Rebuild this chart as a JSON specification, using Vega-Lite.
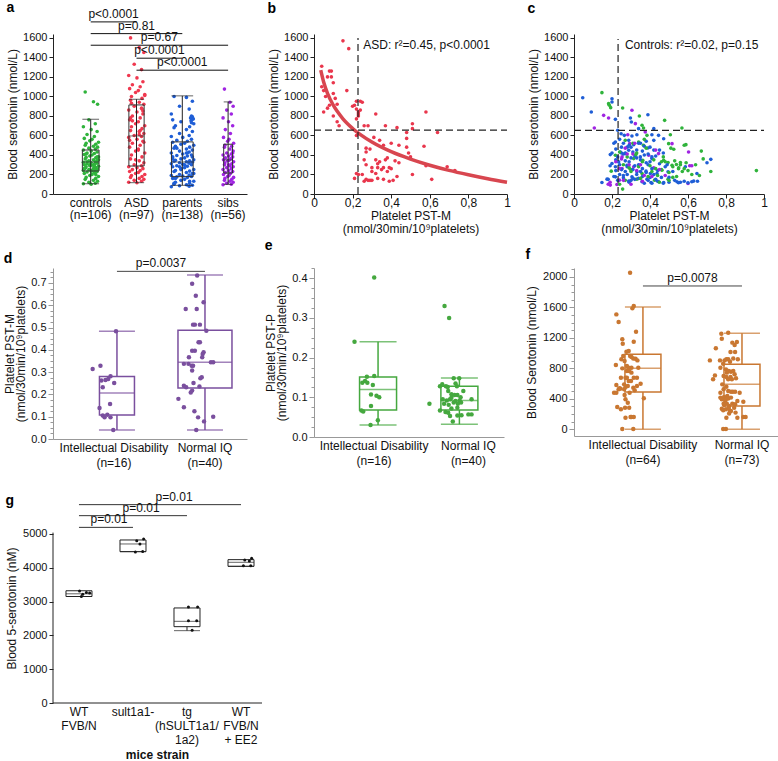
{
"$schema":"https://vega.github.io/schema/vega-lite/v6.json",
"autosize":{"type":"pad"},
"padding":{"left":3,"top":0,"right":0,"bottom":0},
"background":"white",
"config":{"font":"Liberation Sans","view":{"stroke":null},
 "axis":{"grid":false,"domainColor":"#222","tickColor":"#222","labelColor":"#111","titleColor":"#111","labelFontSize":11,"titleFontSize":12,"titleFontWeight":"normal","tickSize":4,"labelPadding":2,"labelOverlap":false},
 "title":{"fontSize":14,"fontWeight":"bold","anchor":"start","frame":"bounds","color":"#000"}},
"bounds":"flush",
"columns":3,
"align":"none",
"spacing":{"row":74,"column":67},
"concat":[
  {"width":194,"height":160,
   "title":{"text":"a","offset":-7},
   "layer":[
    {"layer":[
     {"data":{"name":"aPts"},"mark":{"type":"circle","size":13,"opacity":1},
      "encoding":{
       "x":{"field":"g","type":"nominal","scale":{"domain":["controls","ASD","parents","sibs"],"paddingInner":0.5,"paddingOuter":0.368,"align":0.779},
            "axis":{"title":null,"ticks":false,"labelAngle":0,"labelFontSize":12,"labelPadding":3,"labelLineHeight":12.5,"labelLimit":0,"labelOverlap":false,"labelBound":false,
                    "labelExpr":"datum.value=='controls'?['controls','(n=106)']:datum.value=='ASD'?['ASD','(n=97)']:datum.value=='parents'?['parents','(n=138)']:['sibs','(n=56)']"}},
       "xOffset":{"field":"j","type":"quantitative","scale":{"domain":[-0.5,0.5],"range":[-11.45,34.35]}},
       "y":{"field":"v","type":"quantitative","scale":{"domain":[0,1640],"nice":false,"zero":false},"axis":{"title":"Blood serotonin (nmol/L)","format":"d","labelOverlap":false,"tickCount":100,"values":[0,200,400,600,800,1000,1200,1400,1600],"titlePadding":3}},
       "color":{"field":"g","type":"nominal","scale":{"domain":["controls","ASD","parents","sibs"],"range":["#2fb33b","#f0384f","#1f5ed6","#a024e2"]},"legend":null}}},
     {"data":{"name":"aBox"},"mark":{"type":"rule","color":"#222","strokeWidth":1},
      "encoding":{"x":{"field":"g","type":"nominal"},"y":{"field":"lo","type":"quantitative"},"y2":{"field":"hi"}}},
     {"data":{"name":"aBox"},"mark":{"type":"bar","fillOpacity":0,"stroke":"#333","strokeWidth":1},
      "encoding":{"x":{"field":"g","type":"nominal"},"y":{"field":"q1","type":"quantitative"},"y2":{"field":"q3"},
       "size":{"field":"n","type":"quantitative","scale":{"domain":[0,138],"range":[0,21.7],"zero":true},"legend":null}}},
     {"data":{"name":"aBox"},"mark":{"type":"tick","color":"#333","thickness":1},
      "encoding":{"x":{"field":"g","type":"nominal"},"y":{"field":"med","type":"quantitative"},"size":{"field":"n","type":"quantitative","legend":null}}},
     {"data":{"name":"aBox"},"mark":{"type":"tick","color":"#222","thickness":1},
      "encoding":{"x":{"field":"g","type":"nominal"},"y":{"field":"lo","type":"quantitative"},"size":{"field":"n","type":"quantitative","legend":null}}},
     {"data":{"name":"aBox"},"mark":{"type":"tick","color":"#222","thickness":1},
      "encoding":{"x":{"field":"g","type":"nominal"},"y":{"field":"hi","type":"quantitative"},"size":{"field":"n","type":"quantitative","legend":null}}},
     {"data":{"name":"aSig"},"mark":{"type":"rule","color":"#111","strokeWidth":1},
      "encoding":{"x":{"field":"from","type":"nominal"},"x2":{"field":"to"},"y":{"field":"y","type":"quantitative"}}}
    ]},
    {"data":{"name":"aSig"},"mark":{"type":"text","fontSize":12,"baseline":"bottom","dy":-1,"color":"#111"},
     "encoding":{"x":{"field":"mid","type":"quantitative","scale":{"domain":[0.177,4.413],"nice":false,"zero":false},"axis":null},
      "y":{"field":"y","type":"quantitative"},"text":{"field":"p"}}}
   ],
   "resolve":{"scale":{"x":"independent"}}},
   {"width":193,"height":160,
    "title":{"text":"b","offset":16},
    "layer":[
     {"data":{"name":"bPts"},"mark":{"type":"circle","size":13,"opacity":1,"color":"#e9364c"},
      "encoding":{
       "x":{"field":"x","type":"quantitative","scale":{"domain":[0,1],"nice":false},
            "axis":{"title":["Platelet PST-M","(nmol/30min/10⁹platelets)"],"titleLineHeight":13.5,"titlePadding":2,"values":[0,0.2,0.4,0.6,0.8,1],"tickCount":100,"format":"~g","labelExpr":"replace(datum.label,'.',',')","labelFlush":false,"labelOverlap":false,"labelPadding":-1,"labelFontSize":12}},
       "y":{"field":"v","type":"quantitative","scale":{"domain":[0,1640],"nice":false},"axis":{"title":"Blood serotonin (nmol/L)","format":"d","labelOverlap":false,"tickCount":100,"values":[0,200,400,600,800,1000,1200,1400,1600],"titlePadding":3}}}},
     {"data":{"name":"bCurve"},"mark":{"type":"line","color":"#d8464f","strokeWidth":3.5,"interpolate":"monotone"},
      "encoding":{"x":{"field":"x","type":"quantitative"},"y":{"field":"v","type":"quantitative"}}},
     {"data":{"values":[{"x":0.228,"lo":0,"hi":1600}]},"mark":{"type":"rule","color":"#222","strokeWidth":1.2,"strokeDash":[7,4]},
      "encoding":{"x":{"field":"x","type":"quantitative"},"y":{"field":"lo","type":"quantitative"},"y2":{"field":"hi"}}},
     {"data":{"values":[{"v":655,"x0":0,"x1":1}]},"mark":{"type":"rule","color":"#222","strokeWidth":1.2,"strokeDash":[7,4]},
      "encoding":{"x":{"field":"x0","type":"quantitative"},"x2":{"field":"x1"},"y":{"field":"v","type":"quantitative"}}},
     {"data":{"values":[{"x":0.255,"v":1530,"t":"ASD: r²=0.45, p<0.0001"}]},"mark":{"type":"text","align":"left","fontSize":12,"color":"#111"},
      "encoding":{"x":{"field":"x","type":"quantitative"},"y":{"field":"v","type":"quantitative"},"text":{"field":"t"}}}
    ]},
   {"width":190,"height":160,
    "title":{"text":"c","offset":16},
    "layer":[
     {"data":{"name":"cPts"},"mark":{"type":"circle","size":13,"opacity":1},
      "encoding":{
       "x":{"field":"x","type":"quantitative","scale":{"domain":[0,1],"nice":false},
            "axis":{"title":["Platelet PST-M","(nmol/30min/10⁹platelets)"],"titleLineHeight":13.5,"titlePadding":2,"values":[0,0.2,0.4,0.6,0.8,1],"tickCount":100,"format":"~g","labelExpr":"replace(datum.label,'.',',')","labelFlush":false,"labelOverlap":false,"labelPadding":-1,"labelFontSize":12}},
       "y":{"field":"v","type":"quantitative","scale":{"domain":[0,1640],"nice":false},"axis":{"title":"Blood serotonin (nmol/L)","format":"d","labelOverlap":false,"tickCount":100,"values":[0,200,400,600,800,1000,1200,1400,1600],"titlePadding":3}},
       "color":{"field":"g","type":"nominal","scale":{"domain":["parents","controls","sibs","other"],"range":["#1f5ed6","#34b534","#a52be3","#111111"]},"legend":null}}},
     {"data":{"values":[{"x":0.232,"lo":0,"hi":1590}]},"mark":{"type":"rule","color":"#222","strokeWidth":1.2,"strokeDash":[7,4]},
      "encoding":{"x":{"field":"x","type":"quantitative"},"y":{"field":"lo","type":"quantitative"},"y2":{"field":"hi"}}},
     {"data":{"values":[{"v":652,"x0":0,"x1":1}]},"mark":{"type":"rule","color":"#222","strokeWidth":1.2,"strokeDash":[7,4]},
      "encoding":{"x":{"field":"x0","type":"quantitative"},"x2":{"field":"x1"},"y":{"field":"v","type":"quantitative"}}},
     {"data":{"values":[{"x":0.268,"v":1530,"t":"Controls: r²=0.02, p=0.15"}]},"mark":{"type":"text","align":"left","fontSize":12,"color":"#111"},
      "encoding":{"x":{"field":"x","type":"quantitative"},"y":{"field":"v","type":"quantitative"},"text":{"field":"t"}}}
    ]},
  {"width":194,"height":171,
   "title":{"text":"d","offset":-9},
   "layer":[
    {"layer":[
     {"data":{"name":"dPts"},"mark":{"type":"circle","size":20,"opacity":1,"color":"#7a4f9e"},
      "encoding":{
       "x":{"field":"g","type":"nominal","scale":{"domain":["Intellectual Disability","Normal IQ"],"paddingInner":0.5,"paddingOuter":0.352,"align":0.677},
            "axis":{"title":null,"ticks":false,"labelAngle":0,"labelFontSize":12,"labelPadding":3,"labelLineHeight":15,"labelLimit":0,"labelOverlap":false,"labelBound":false,"domainColor":"#999",
                    "labelOffset":{"condition":{"test":"datum.value=='Normal IQ'","value":0},"value":-3},
                    "labelExpr":"datum.value=='Normal IQ'?['Normal IQ','(n=40)']:['Intellectual Disability','(n=16)']"}},
       "xOffset":{"field":"j","type":"quantitative","scale":{"domain":[-0.5,0.5],"range":[-22,66]}},
       "y":{"field":"v","type":"quantitative","scale":{"domain":[0,0.767],"nice":false,"zero":false},
            "axis":{"title":["Platelet PST-M","(nmol/30min/10⁹platelets)"],"titleLineHeight":11,"titlePadding":3,"domainColor":"#999","tickColor":"#999","labelOverlap":false,"tickCount":100,
                    "values":[0,0.025,0.05,0.075,0.1,0.125,0.15,0.175,0.2,0.225,0.25,0.275,0.3,0.325,0.35,0.375,0.4,0.425,0.45,0.475,0.5,0.525,0.55,0.575,0.6,0.625,0.65,0.675,0.7,0.725,0.75],
                    "labelExpr":"round(datum.value*1000)%100==0?format(datum.value,'.1f'):''",
                    "tickSize":{"condition":{"test":"round(datum.value*1000)%100==0","value":5},"value":3}}}}},
     {"data":{"name":"dBox"},"mark":{"type":"rule","color":"#7a4f9e","strokeWidth":1.5},
      "encoding":{"x":{"field":"g","type":"nominal"},"y":{"field":"lo","type":"quantitative"},"y2":{"field":"q1"}}},
     {"data":{"name":"dBox"},"mark":{"type":"rule","color":"#7a4f9e","strokeWidth":1.5},
      "encoding":{"x":{"field":"g","type":"nominal"},"y":{"field":"q3","type":"quantitative"},"y2":{"field":"hi"}}},
     {"data":{"name":"dBox"},"transform":[{"filter":"datum.g=='Intellectual Disability'"}],"mark":{"type":"bar","fillOpacity":0,"stroke":"#7a4f9e","strokeWidth":1.5,"width":35},
      "encoding":{"x":{"field":"g","type":"nominal"},"y":{"field":"q1","type":"quantitative"},"y2":{"field":"q3"}}},
     {"data":{"name":"dBox"},"transform":[{"filter":"datum.g=='Normal IQ'"}],"mark":{"type":"bar","fillOpacity":0,"stroke":"#7a4f9e","strokeWidth":1.5,"width":54},
      "encoding":{"x":{"field":"g","type":"nominal"},"y":{"field":"q1","type":"quantitative"},"y2":{"field":"q3"}}},
     {"data":{"name":"dBox"},"transform":[{"filter":"datum.g=='Intellectual Disability'"}],"mark":{"type":"tick","color":"#7a4f9e","thickness":1.5,"size":35},
      "encoding":{"x":{"field":"g","type":"nominal"},"y":{"field":"med","type":"quantitative"}}},
     {"data":{"name":"dBox"},"transform":[{"filter":"datum.g=='Normal IQ'"}],"mark":{"type":"tick","color":"#7a4f9e","thickness":1.5,"size":54},
      "encoding":{"x":{"field":"g","type":"nominal"},"y":{"field":"med","type":"quantitative"}}},
     {"data":{"name":"dBox"},"mark":{"type":"tick","color":"#7a4f9e","thickness":1.5,"size":36},
      "encoding":{"x":{"field":"g","type":"nominal"},"y":{"field":"lo","type":"quantitative"}}},
     {"data":{"name":"dBox"},"mark":{"type":"tick","color":"#7a4f9e","thickness":1.5,"size":36},
      "encoding":{"x":{"field":"g","type":"nominal"},"y":{"field":"hi","type":"quantitative"}}},
     {"data":{"values":[{"from":"Intellectual Disability","to":"Normal IQ","y":0.752,"mid":1.5,"p":"p=0.0037"}]},"mark":{"type":"rule","color":"#444","strokeWidth":1},
      "encoding":{"x":{"field":"from","type":"nominal"},"x2":{"field":"to"},"y":{"field":"y","type":"quantitative"}}}
    ]},
    {"data":{"values":[{"from":"Intellectual Disability","to":"Normal IQ","y":0.752,"mid":1.5,"p":"p=0.0037"}]},"mark":{"type":"text","fontSize":12,"baseline":"bottom","dy":-1,"color":"#111"},
     "encoding":{"x":{"field":"mid","type":"quantitative","scale":{"domain":[0.273,2.477],"nice":false,"zero":false},"axis":null},
      "y":{"field":"y","type":"quantitative"},"text":{"field":"p"}}}
   ],
   "resolve":{"scale":{"x":"independent"}}},
   {"width":190,"height":169,
    "title":{"text":"e","offset":9},
    "layer":[
     {"data":{"name":"ePts"},"mark":{"type":"circle","size":20,"opacity":1,"color":"#45a83f"},
      "encoding":{
       "x":{"field":"g","type":"nominal","scale":{"domain":["Intellectual Disability","Normal IQ"],"paddingInner":0.5,"paddingOuter":0.418,"align":0.643},
            "axis":{"title":null,"ticks":false,"labelAngle":0,"labelFontSize":12,"labelPadding":3,"labelLineHeight":15,"labelLimit":0,"labelOverlap":false,"labelBound":false,"domainColor":"#999",
                    "labelOffset":{"condition":{"test":"datum.value=='Normal IQ'","value":9},"value":-4},
                    "labelExpr":"datum.value=='Normal IQ'?['Normal IQ','(n=40)']:['Intellectual Disability','(n=16)']"}},
       "xOffset":{"field":"j","type":"quantitative","scale":{"domain":[-0.5,0.5],"range":[-20.3,61]}},
       "y":{"field":"v","type":"quantitative","scale":{"domain":[0,0.426],"nice":false,"zero":false},
            "axis":{"title":["Platelet PST-P","(nmol/30min/10⁹platelets)"],"titleLineHeight":11,"titlePadding":3,"domainColor":"#999","tickColor":"#999","labelOverlap":false,"tickCount":100,
                    "values":[0,0.025,0.05,0.075,0.1,0.125,0.15,0.175,0.2,0.225,0.25,0.275,0.3,0.325,0.35,0.375,0.4,0.425],
                    "labelExpr":"round(datum.value*1000)%100==0?format(datum.value,'.1f'):''",
                    "tickSize":{"condition":{"test":"round(datum.value*1000)%100==0","value":5},"value":3}}}}},
     {"data":{"name":"eBox"},"mark":{"type":"rule","color":"#45a83f","strokeWidth":1.5},
      "encoding":{"x":{"field":"g","type":"nominal"},"y":{"field":"lo","type":"quantitative"},"y2":{"field":"q1"}}},
     {"data":{"name":"eBox"},"mark":{"type":"rule","color":"#45a83f","strokeWidth":1.5},
      "encoding":{"x":{"field":"g","type":"nominal"},"y":{"field":"q3","type":"quantitative"},"y2":{"field":"hi"}}},
     {"data":{"name":"eBox"},"mark":{"type":"bar","fillOpacity":0,"stroke":"#45a83f","strokeWidth":1.5,"width":37},
      "encoding":{"x":{"field":"g","type":"nominal"},"y":{"field":"q1","type":"quantitative"},"y2":{"field":"q3"}}},
     {"data":{"name":"eBox"},"mark":{"type":"tick","color":"#45a83f","thickness":1.5,"size":37},
      "encoding":{"x":{"field":"g","type":"nominal"},"y":{"field":"med","type":"quantitative"}}},
     {"data":{"name":"eBox"},"mark":{"type":"tick","color":"#45a83f","thickness":1.5,"size":37},
      "encoding":{"x":{"field":"g","type":"nominal"},"y":{"field":"lo","type":"quantitative"}}},
     {"data":{"name":"eBox"},"mark":{"type":"tick","color":"#45a83f","thickness":1.5,"size":37},
      "encoding":{"x":{"field":"g","type":"nominal"},"y":{"field":"hi","type":"quantitative"}}}
    ]},
   {"width":207,"height":168,
    "title":{"text":"f","offset":1},
    "layer":[
     {"layer":[
      {"data":{"name":"fPts"},"mark":{"type":"circle","size":20,"opacity":1,"color":"#c97731"},
       "encoding":{
        "x":{"field":"g","type":"nominal","scale":{"domain":["Intellectual Disability","Normal IQ"],"paddingInner":0.5,"paddingOuter":0.295,"align":0.756},
             "axis":{"title":null,"ticks":false,"labelAngle":0,"labelFontSize":12,"labelPadding":3,"labelLineHeight":15,"labelLimit":0,"labelOverlap":false,"labelBound":false,"domainColor":"#999",
                     "labelExpr":"datum.value=='Normal IQ'?['Normal IQ','(n=73)']:['Intellectual Disability','(n=64)']"}},
        "xOffset":{"field":"j","type":"quantitative","scale":{"domain":[-0.5,0.5],"range":[-24.75,74.25]}},
        "y":{"field":"v","type":"quantitative","scale":{"domain":[-88,2118],"nice":false,"zero":false},
             "axis":{"title":"Blood Serotonin (nmol/L)","titlePadding":4,"domainColor":"#999","tickColor":"#999","labelOverlap":false,"tickCount":100,
                     "values":[0,100,200,300,400,500,600,700,800,900,1000,1100,1200,1300,1400,1500,1600,1700,1800,1900,2000,2100],
                     "labelExpr":"datum.value%400==0?format(datum.value,'d'):''",
                     "tickSize":{"condition":{"test":"datum.value%400==0","value":5},"value":3}}}}},
      {"data":{"name":"fBox"},"mark":{"type":"rule","color":"#c97731","strokeWidth":1.5},
       "encoding":{"x":{"field":"g","type":"nominal"},"y":{"field":"lo","type":"quantitative"},"y2":{"field":"q1"}}},
      {"data":{"name":"fBox"},"mark":{"type":"rule","color":"#c97731","strokeWidth":1.5},
       "encoding":{"x":{"field":"g","type":"nominal"},"y":{"field":"q3","type":"quantitative"},"y2":{"field":"hi"}}},
      {"data":{"name":"fBox"},"mark":{"type":"bar","fillOpacity":0,"stroke":"#c97731","strokeWidth":1.5,"width":36},
       "encoding":{"x":{"field":"g","type":"nominal"},"y":{"field":"q1","type":"quantitative"},"y2":{"field":"q3"}}},
      {"data":{"name":"fBox"},"mark":{"type":"tick","color":"#c97731","thickness":1.5,"size":36},
       "encoding":{"x":{"field":"g","type":"nominal"},"y":{"field":"med","type":"quantitative"}}},
      {"data":{"name":"fBox"},"mark":{"type":"tick","color":"#c97731","thickness":1.5,"size":36},
       "encoding":{"x":{"field":"g","type":"nominal"},"y":{"field":"lo","type":"quantitative"}}},
      {"data":{"name":"fBox"},"mark":{"type":"tick","color":"#c97731","thickness":1.5,"size":36},
       "encoding":{"x":{"field":"g","type":"nominal"},"y":{"field":"hi","type":"quantitative"}}},
      {"data":{"values":[{"from":"Intellectual Disability","to":"Normal IQ","y":1882,"mid":1.5,"p":"p=0.0078"}]},"mark":{"type":"rule","color":"#444","strokeWidth":1},
       "encoding":{"x":{"field":"from","type":"nominal"},"x2":{"field":"to"},"y":{"field":"y","type":"quantitative"}}}
     ]},
     {"data":{"values":[{"from":"Intellectual Disability","to":"Normal IQ","y":1882,"mid":1.5,"p":"p=0.0078"}]},"mark":{"type":"text","fontSize":12,"baseline":"bottom","dy":-1,"color":"#111"},
      "encoding":{"x":{"field":"mid","type":"quantitative","scale":{"domain":[0.303,2.394],"nice":false,"zero":false},"axis":null},
       "y":{"field":"y","type":"quantitative"},"text":{"field":"p"}}}
    ],
    "resolve":{"scale":{"x":"independent"}}},
{"width":194,"height":190,
 "title":{"text":"g","offset":-17},
 "layer":[
  {"layer":[
   {"data":{"name":"gBox"},"mark":{"type":"rule","color":"#222","strokeWidth":1},
    "encoding":{
     "x":{"field":"g","type":"nominal","scale":{"domain":["WT FVB/N","sult1a1-","tg (hSULT1a1/1a2)","WT FVB/N + EE2"],"paddingInner":0.8,"paddingOuter":0.196,"align":0.972},
          "axis":{"title":"mice strain","titleFontWeight":"bold","titlePadding":4,"titleX":104,"domain":false,"ticks":false,"labelAngle":0,"labelFontSize":12,"labelPadding":3,"labelLineHeight":14,"labelLimit":0,"labelOverlap":false,"labelBound":false,"labelBaseline":"top",
                  "labelExpr":"datum.value=='WT FVB/N'?['WT','FVB/N']:datum.value=='sult1a1-'?['sult1a1-']:datum.value=='tg (hSULT1a1/1a2)'?['tg','(hSULT1a1/','1a2)']:['WT','FVB/N','+ EE2']"}},
     "y":{"field":"lo","type":"quantitative","scale":{"domain":[0,5620],"nice":false,"zero":false},"axis":{"title":"Blood 5-serotonin (nM)","format":"d","domain":false,"labelOverlap":false,"tickCount":100,"values":[0,1000,2000,3000,4000,5000],"titlePadding":4}},
     "y2":{"field":"q1"}}},
   {"data":{"name":"gBox"},"mark":{"type":"bar","fillOpacity":0,"stroke":"#222","strokeWidth":1,"width":26},
    "encoding":{"x":{"field":"g","type":"nominal"},"y":{"field":"q1","type":"quantitative"},"y2":{"field":"q3"}}},
   {"data":{"name":"gBox"},"mark":{"type":"tick","color":"#222","thickness":1,"size":26},
    "encoding":{"x":{"field":"g","type":"nominal"},"y":{"field":"med","type":"quantitative"}}},
   {"data":{"name":"gBox"},"mark":{"type":"tick","color":"#222","thickness":1,"size":26},
    "encoding":{"x":{"field":"g","type":"nominal"},"y":{"field":"lo","type":"quantitative"}}},
   {"data":{"name":"gPts"},"mark":{"type":"circle","size":9,"opacity":1,"color":"#111"},
    "encoding":{"x":{"field":"g","type":"nominal"},
     "xOffset":{"field":"j","type":"quantitative","scale":{"domain":[-0.5,0.5],"range":[-21.6,32.4]}},
     "y":{"field":"v","type":"quantitative"}}},
   {"data":{"name":"gSig"},"mark":{"type":"rule","color":"#333","strokeWidth":1},
    "encoding":{"x":{"field":"from","type":"nominal"},"x2":{"field":"to"},"y":{"field":"y","type":"quantitative"}}}
  ]},
  {"layer":[
   {"data":{"name":"gSig"},"mark":{"type":"text","fontSize":12,"baseline":"bottom","dy":-1,"color":"#111"},
    "encoding":{"x":{"field":"mid","type":"quantitative","scale":{"domain":[0.519,4.111],"nice":false,"zero":false},"axis":null},
     "y":{"field":"y","type":"quantitative"},"text":{"field":"p"}}},
   {"data":{"values":[{"x0":0.519,"x1":4.389,"v":0}]},"mark":{"type":"rule","color":"#222","strokeWidth":1},
    "encoding":{"x":{"field":"x0","type":"quantitative"},"x2":{"field":"x1"},"y":{"field":"v","type":"quantitative"}}},
   {"data":{"values":[{"x0":0.519,"lo":0,"hi":5040}]},"mark":{"type":"rule","color":"#222","strokeWidth":1},
    "encoding":{"x":{"field":"x0","type":"quantitative"},"y":{"field":"lo","type":"quantitative"},"y2":{"field":"hi"}}}
  ]}
 ],
 "resolve":{"scale":{"x":"independent"}}}
],
"datasets":{
"aBox":[
 {"g":"controls","n":106,"lo":106,"q1":236,"med":328,"q3":451,"hi":766},
 {"g":"ASD","n":97,"lo":116,"q1":287,"med":595,"q3":913,"hi":971},
 {"g":"parents","n":138,"lo":89,"q1":178,"med":328,"q3":534,"hi":1006},
 {"g":"sibs","n":56,"lo":99,"q1":215,"med":349,"q3":510,"hi":944}],
"aSig":[
 {"from":"controls","to":"ASD","y":1764,"mid":1.5,"p":"p<0.0001"},
 {"from":"controls","to":"parents","y":1644,"mid":2,"p":"p=0.81"},
 {"from":"controls","to":"sibs","y":1525,"mid":2.5,"p":"p=0.67"},
 {"from":"ASD","to":"parents","y":1392,"mid":2.5,"p":"p<0.0001"},
 {"from":"ASD","to":"sibs","y":1269,"mid":3,"p":"p<0.0001"}],
"aPts":[
{"g":"controls","j":-0.12,"v":1045},{"g":"controls","j":0.06,"v":945},{"g":"controls","j":0.15,"v":920},{"g":"controls","j":-0.04,"v":760},{"g":"controls","j":0.1,"v":720},{"g":"controls","j":-0.16,"v":690},{"g":"controls","j":0.01,"v":660},{"g":"controls","j":0.14,"v":640},{"g":"controls","j":-0.08,"v":610},{"g":"controls","j":0.08,"v":590},{"g":"controls","j":-0.14,"v":570},{"g":"controls","j":0.03,"v":560},{"g":"controls","j":-0.02,"v":545},{"g":"controls","j":0.17,"v":530},{"g":"controls","j":-0.1,"v":520},{"g":"controls","j":0.11,"v":510},
{"g":"controls","j":-0.12,"v":500},{"g":"controls","j":0.06,"v":490},{"g":"controls","j":0.15,"v":480},{"g":"controls","j":-0.04,"v":470},{"g":"controls","j":0.1,"v":460},{"g":"controls","j":-0.16,"v":450},{"g":"controls","j":0.01,"v":440},{"g":"controls","j":0.14,"v":430},{"g":"controls","j":-0.08,"v":420},{"g":"controls","j":0.08,"v":415},{"g":"controls","j":-0.14,"v":405},{"g":"controls","j":0.03,"v":400},{"g":"controls","j":-0.02,"v":390},{"g":"controls","j":0.17,"v":380},{"g":"controls","j":-0.1,"v":375},{"g":"controls","j":0.11,"v":370},
{"g":"controls","j":-0.12,"v":360},{"g":"controls","j":0.06,"v":350},{"g":"controls","j":0.15,"v":345},{"g":"controls","j":-0.04,"v":340},{"g":"controls","j":0.1,"v":330},{"g":"controls","j":-0.16,"v":325},{"g":"controls","j":0.01,"v":320},{"g":"controls","j":0.14,"v":315},{"g":"controls","j":-0.08,"v":310},{"g":"controls","j":0.08,"v":305},{"g":"controls","j":-0.14,"v":300},{"g":"controls","j":0.03,"v":295},{"g":"controls","j":-0.02,"v":290},{"g":"controls","j":0.17,"v":285},{"g":"controls","j":-0.1,"v":280},{"g":"controls","j":0.11,"v":270},
{"g":"controls","j":-0.12,"v":265},{"g":"controls","j":0.06,"v":260},{"g":"controls","j":0.15,"v":255},{"g":"controls","j":-0.04,"v":250},{"g":"controls","j":0.1,"v":245},{"g":"controls","j":-0.16,"v":240},{"g":"controls","j":0.01,"v":235},{"g":"controls","j":0.14,"v":230},{"g":"controls","j":-0.08,"v":225},{"g":"controls","j":0.08,"v":220},{"g":"controls","j":-0.14,"v":210},{"g":"controls","j":0.03,"v":200},{"g":"controls","j":-0.02,"v":190},{"g":"controls","j":0.17,"v":180},{"g":"controls","j":-0.1,"v":170},{"g":"controls","j":0.11,"v":160},
{"g":"controls","j":-0.12,"v":150},{"g":"controls","j":0.06,"v":140},{"g":"controls","j":0.15,"v":130},{"g":"controls","j":-0.04,"v":120},{"g":"controls","j":0.1,"v":110},{"g":"controls","j":-0.16,"v":105},{"g":"controls","j":0.01,"v":100},{"g":"controls","j":0.14,"v":380},{"g":"controls","j":-0.08,"v":330},{"g":"controls","j":0.08,"v":290},{"g":"controls","j":-0.14,"v":260},{"g":"controls","j":0.03,"v":240},{"g":"controls","j":-0.02,"v":300},{"g":"controls","j":0.17,"v":350},{"g":"controls","j":-0.1,"v":410},{"g":"controls","j":0.11,"v":200},
{"g":"ASD","j":-0.13,"v":1600},{"g":"ASD","j":0.06,"v":1500},{"g":"ASD","j":0.16,"v":1450},{"g":"ASD","j":-0.05,"v":1330},{"g":"ASD","j":0.11,"v":1275},{"g":"ASD","j":-0.17,"v":1215},{"g":"ASD","j":0.01,"v":1190},{"g":"ASD","j":0.14,"v":1150},{"g":"ASD","j":-0.09,"v":1120},{"g":"ASD","j":0.08,"v":1100},{"g":"ASD","j":-0.15,"v":1080},{"g":"ASD","j":0.04,"v":1060},{"g":"ASD","j":-0.02,"v":1040},{"g":"ASD","j":0.18,"v":1020},{"g":"ASD","j":-0.11,"v":1000},{"g":"ASD","j":0.12,"v":980},
{"g":"ASD","j":-0.13,"v":960},{"g":"ASD","j":0.06,"v":940},{"g":"ASD","j":0.16,"v":920},{"g":"ASD","j":-0.05,"v":900},{"g":"ASD","j":0.11,"v":880},{"g":"ASD","j":-0.17,"v":860},{"g":"ASD","j":0.01,"v":840},{"g":"ASD","j":0.14,"v":820},{"g":"ASD","j":-0.09,"v":800},{"g":"ASD","j":0.08,"v":780},{"g":"ASD","j":-0.15,"v":760},{"g":"ASD","j":0.04,"v":740},{"g":"ASD","j":-0.02,"v":720},{"g":"ASD","j":0.18,"v":700},{"g":"ASD","j":-0.11,"v":690},{"g":"ASD","j":0.12,"v":670},
{"g":"ASD","j":-0.13,"v":650},{"g":"ASD","j":0.06,"v":640},{"g":"ASD","j":0.16,"v":620},{"g":"ASD","j":-0.05,"v":600},{"g":"ASD","j":0.11,"v":590},{"g":"ASD","j":-0.17,"v":580},{"g":"ASD","j":0.01,"v":560},{"g":"ASD","j":0.14,"v":540},{"g":"ASD","j":-0.09,"v":520},{"g":"ASD","j":0.08,"v":500},{"g":"ASD","j":-0.15,"v":480},{"g":"ASD","j":0.04,"v":460},{"g":"ASD","j":-0.02,"v":440},{"g":"ASD","j":0.18,"v":420},{"g":"ASD","j":-0.11,"v":400},{"g":"ASD","j":0.12,"v":380},
{"g":"ASD","j":-0.13,"v":360},{"g":"ASD","j":0.06,"v":340},{"g":"ASD","j":0.16,"v":320},{"g":"ASD","j":-0.05,"v":300},{"g":"ASD","j":0.11,"v":290},{"g":"ASD","j":-0.17,"v":280},{"g":"ASD","j":0.01,"v":270},{"g":"ASD","j":0.14,"v":260},{"g":"ASD","j":-0.09,"v":250},{"g":"ASD","j":0.08,"v":240},{"g":"ASD","j":-0.15,"v":230},{"g":"ASD","j":0.04,"v":220},{"g":"ASD","j":-0.02,"v":210},{"g":"ASD","j":0.18,"v":200},{"g":"ASD","j":-0.11,"v":190},{"g":"ASD","j":0.12,"v":180},
{"g":"ASD","j":-0.13,"v":170},{"g":"ASD","j":0.06,"v":160},{"g":"ASD","j":0.16,"v":150},{"g":"ASD","j":-0.05,"v":140},{"g":"ASD","j":0.11,"v":130},{"g":"ASD","j":-0.17,"v":120},{"g":"ASD","j":0.01,"v":115},{"g":"ASD","j":0.14,"v":850},{"g":"ASD","j":-0.09,"v":750},{"g":"ASD","j":0.08,"v":650},{"g":"ASD","j":-0.15,"v":550},{"g":"ASD","j":0.04,"v":450},{"g":"ASD","j":-0.02,"v":350},{"g":"ASD","j":0.18,"v":1010},{"g":"ASD","j":-0.11,"v":930},{"g":"ASD","j":0.12,"v":870},
{"g":"ASD","j":-0.13,"v":780},{"g":"ASD","j":0.06,"v":610},{"g":"ASD","j":0.16,"v":530},
{"g":"parents","j":-0.18,"v":1000},{"g":"parents","j":0.09,"v":990},{"g":"parents","j":0.22,"v":950},{"g":"parents","j":-0.06,"v":900},{"g":"parents","j":0.15,"v":870},{"g":"parents","j":-0.24,"v":820},{"g":"parents","j":0.2,"v":800},{"g":"parents","j":0.22,"v":790},{"g":"parents","j":0.18,"v":780},{"g":"parents","j":0.24,"v":770},{"g":"parents","j":-0.21,"v":760},{"g":"parents","j":0.19,"v":750},{"g":"parents","j":-0.03,"v":740},{"g":"parents","j":0.25,"v":720},{"g":"parents","j":-0.15,"v":700},{"g":"parents","j":0.16,"v":690},
{"g":"parents","j":-0.18,"v":680},{"g":"parents","j":0.09,"v":660},{"g":"parents","j":0.22,"v":640},{"g":"parents","j":-0.06,"v":620},{"g":"parents","j":0.15,"v":600},{"g":"parents","j":-0.24,"v":590},{"g":"parents","j":0.01,"v":580},{"g":"parents","j":0.2,"v":560},{"g":"parents","j":-0.12,"v":550},{"g":"parents","j":0.11,"v":540},{"g":"parents","j":-0.21,"v":530},{"g":"parents","j":0.05,"v":520},{"g":"parents","j":-0.03,"v":510},{"g":"parents","j":0.25,"v":500},{"g":"parents","j":-0.15,"v":490},{"g":"parents","j":0.16,"v":480},
{"g":"parents","j":-0.18,"v":470},{"g":"parents","j":0.09,"v":460},{"g":"parents","j":0.22,"v":450},{"g":"parents","j":-0.06,"v":440},{"g":"parents","j":0.15,"v":430},{"g":"parents","j":-0.24,"v":420},{"g":"parents","j":0.01,"v":410},{"g":"parents","j":0.2,"v":400},{"g":"parents","j":-0.12,"v":395},{"g":"parents","j":0.11,"v":390},{"g":"parents","j":-0.21,"v":380},{"g":"parents","j":0.05,"v":370},{"g":"parents","j":-0.03,"v":360},{"g":"parents","j":0.25,"v":350},{"g":"parents","j":-0.15,"v":345},{"g":"parents","j":0.16,"v":340},
{"g":"parents","j":-0.18,"v":335},{"g":"parents","j":0.09,"v":330},{"g":"parents","j":0.22,"v":325},{"g":"parents","j":-0.06,"v":320},{"g":"parents","j":0.15,"v":315},{"g":"parents","j":-0.24,"v":310},{"g":"parents","j":0.01,"v":305},{"g":"parents","j":0.2,"v":300},{"g":"parents","j":-0.12,"v":290},{"g":"parents","j":0.11,"v":285},{"g":"parents","j":-0.21,"v":280},{"g":"parents","j":0.05,"v":270},{"g":"parents","j":-0.03,"v":260},{"g":"parents","j":0.25,"v":250},{"g":"parents","j":-0.15,"v":240},{"g":"parents","j":0.16,"v":235},
{"g":"parents","j":-0.18,"v":230},{"g":"parents","j":0.09,"v":220},{"g":"parents","j":0.22,"v":210},{"g":"parents","j":-0.06,"v":200},{"g":"parents","j":0.15,"v":195},{"g":"parents","j":-0.24,"v":190},{"g":"parents","j":0.01,"v":185},{"g":"parents","j":0.2,"v":180},{"g":"parents","j":-0.12,"v":175},{"g":"parents","j":0.11,"v":170},{"g":"parents","j":-0.21,"v":160},{"g":"parents","j":0.05,"v":150},{"g":"parents","j":-0.03,"v":140},{"g":"parents","j":0.25,"v":130},{"g":"parents","j":-0.15,"v":120},{"g":"parents","j":0.16,"v":110},
{"g":"parents","j":-0.18,"v":100},{"g":"parents","j":0.09,"v":95},{"g":"parents","j":0.22,"v":90},{"g":"parents","j":-0.06,"v":85},{"g":"parents","j":0.15,"v":80},{"g":"parents","j":-0.24,"v":75},{"g":"parents","j":0.21,"v":760},{"g":"parents","j":0.2,"v":730},{"g":"parents","j":-0.12,"v":470},{"g":"parents","j":0.11,"v":420},{"g":"parents","j":-0.21,"v":360},{"g":"parents","j":0.05,"v":300},{"g":"parents","j":-0.03,"v":250},{"g":"parents","j":0.25,"v":210},{"g":"parents","j":-0.15,"v":160},{"g":"parents","j":0.16,"v":130},
{"g":"parents","j":-0.18,"v":110},{"g":"parents","j":0.09,"v":420},{"g":"parents","j":0.22,"v":380},{"g":"parents","j":-0.06,"v":280},
{"g":"sibs","j":-0.08,"v":1075},{"g":"sibs","j":0.04,"v":940},{"g":"sibs","j":0.11,"v":900},{"g":"sibs","j":-0.03,"v":860},{"g":"sibs","j":0.07,"v":820},{"g":"sibs","j":-0.11,"v":780},{"g":"sibs","j":0.01,"v":740},{"g":"sibs","j":0.1,"v":700},{"g":"sibs","j":-0.06,"v":660},{"g":"sibs","j":0.05,"v":620},{"g":"sibs","j":-0.1,"v":580},{"g":"sibs","j":0.02,"v":560},{"g":"sibs","j":-0.01,"v":540},{"g":"sibs","j":0.12,"v":520},{"g":"sibs","j":-0.07,"v":500},{"g":"sibs","j":0.08,"v":490},
{"g":"sibs","j":-0.08,"v":480},{"g":"sibs","j":0.04,"v":460},{"g":"sibs","j":0.11,"v":440},{"g":"sibs","j":-0.03,"v":420},{"g":"sibs","j":0.07,"v":410},{"g":"sibs","j":-0.11,"v":400},{"g":"sibs","j":0.01,"v":390},{"g":"sibs","j":0.1,"v":380},{"g":"sibs","j":-0.06,"v":370},{"g":"sibs","j":0.05,"v":360},{"g":"sibs","j":-0.1,"v":350},{"g":"sibs","j":0.02,"v":345},{"g":"sibs","j":-0.01,"v":340},{"g":"sibs","j":0.12,"v":330},{"g":"sibs","j":-0.07,"v":320},{"g":"sibs","j":0.08,"v":310},
{"g":"sibs","j":-0.08,"v":300},{"g":"sibs","j":0.04,"v":290},{"g":"sibs","j":0.11,"v":280},{"g":"sibs","j":-0.03,"v":270},{"g":"sibs","j":0.07,"v":260},{"g":"sibs","j":-0.11,"v":250},{"g":"sibs","j":0.01,"v":240},{"g":"sibs","j":0.1,"v":230},{"g":"sibs","j":-0.06,"v":220},{"g":"sibs","j":0.05,"v":210},{"g":"sibs","j":-0.1,"v":200},{"g":"sibs","j":0.02,"v":190},{"g":"sibs","j":-0.01,"v":180},{"g":"sibs","j":0.12,"v":170},{"g":"sibs","j":-0.07,"v":160},{"g":"sibs","j":0.08,"v":150},
{"g":"sibs","j":-0.08,"v":140},{"g":"sibs","j":0.04,"v":130},{"g":"sibs","j":0.11,"v":120},{"g":"sibs","j":-0.03,"v":110},{"g":"sibs","j":0.07,"v":100},{"g":"sibs","j":-0.11,"v":95},{"g":"sibs","j":0.01,"v":300},{"g":"sibs","j":0.1,"v":420}],
"bPts":[
{"x":0.04,"v":1310},{"x":0.04,"v":1100},{"x":0.05,"v":1060},{"x":0.06,"v":1000},{"x":0.05,"v":840},{"x":0.07,"v":880},{"x":0.07,"v":1200},{"x":0.08,"v":1260},{"x":0.09,"v":1260},{"x":0.09,"v":1200},{"x":0.08,"v":910},{"x":0.1,"v":1140},{"x":0.1,"v":1030},{"x":0.11,"v":980},{"x":0.1,"v":800},{"x":0.12,"v":920},{"x":0.12,"v":740},{"x":0.13,"v":700},{"x":0.15,"v":1570},{"x":0.18,"v":1490},{"x":0.17,"v":1060},{"x":0.2,"v":900},{"x":0.21,"v":910},{"x":0.22,"v":950},{"x":0.22,"v":870},{"x":0.23,"v":840},{"x":0.23,"v":800},{"x":0.22,"v":770},{"x":0.24,"v":950},{"x":0.25,"v":940},{"x":0.24,"v":860},{"x":0.23,"v":820},{"x":0.22,"v":600},{"x":0.21,"v":160},{"x":0.22,"v":210},{"x":0.23,"v":200},{"x":0.25,"v":200},{"x":0.26,"v":130},{"x":0.26,"v":700},{"x":0.28,"v":700},{"x":0.26,"v":350},{"x":0.27,"v":470},{"x":0.27,"v":430},{"x":0.27,"v":300},{"x":0.28,"v":140},{"x":0.29,"v":140},{"x":0.3,"v":140},{"x":0.29,"v":460},{"x":0.3,"v":270},{"x":0.31,"v":580},{"x":0.32,"v":820},{"x":0.32,"v":350},{"x":0.32,"v":210},{"x":0.33,"v":270},{"x":0.33,"v":310},{"x":0.34,"v":550},{"x":0.34,"v":330},{"x":0.35,"v":250},{"x":0.36,"v":500},{"x":0.36,"v":270},{"x":0.37,"v":700},{"x":0.37,"v":350},{"x":0.38,"v":230},{"x":0.39,"v":270},{"x":0.4,"v":260},{"x":0.4,"v":520},{"x":0.41,"v":140},{"x":0.42,"v":340},{"x":0.43,"v":180},{"x":0.43,"v":680},{"x":0.44,"v":500},{"x":0.44,"v":320},{"x":0.48,"v":630},{"x":0.48,"v":570},{"x":0.48,"v":480},{"x":0.49,"v":420},{"x":0.5,"v":380},{"x":0.51,"v":720},{"x":0.51,"v":670},{"x":0.51,"v":200},{"x":0.57,"v":490},{"x":0.58,"v":840},{"x":0.58,"v":290},{"x":0.61,"v":150},{"x":0.64,"v":630},{"x":0.69,"v":280},{"x":0.73,"v":240},{"x":0.38,"v":370},{"x":0.3,"v":230},{"x":0.33,"v":160},{"x":0.36,"v":150},{"x":0.39,"v":130},{"x":0.27,"v":150}],
"bCurve":[
{"x":0.035,"v":1270},{"x":0.05,"v":1148},{"x":0.07,"v":1032},{"x":0.1,"v":910},{"x":0.15,"v":771},{"x":0.2,"v":672},{"x":0.3,"v":533},{"x":0.4,"v":434},{"x":0.5,"v":358},{"x":0.6,"v":295},{"x":0.7,"v":242},{"x":0.8,"v":197},{"x":0.9,"v":156},{"x":1.0,"v":120}],
"cPts":[
{"x":0.046,"v":987,"g":"parents"},{"x":0.091,"v":840,"g":"parents"},{"x":0.2,"v":977,"g":"parents"},{"x":0.2,"v":943,"g":"parents"},{"x":0.147,"v":1039,"g":"controls"},{"x":0.182,"v":926,"g":"controls"},{"x":0.186,"v":909,"g":"controls"},{"x":0.156,"v":806,"g":"sibs"},{"x":0.182,"v":779,"g":"sibs"},{"x":0.305,"v":858,"g":"sibs"},{"x":0.218,"v":765,"g":"parents"},{"x":0.297,"v":779,"g":"parents"},{"x":0.302,"v":738,"g":"parents"},{"x":0.389,"v":813,"g":"parents"},{"x":0.256,"v":881,"g":"controls"},{"x":0.323,"v":721,"g":"sibs"},{"x":0.358,"v":704,"g":"controls"},{"x":0.366,"v":677,"g":"controls"},{"x":0.34,"v":670,"g":"parents"},{"x":0.477,"v":755,"g":"controls"},{"x":0.568,"v":677,"g":"controls"},{"x":0.107,"v":677,"g":"sibs"},{"x":0.23,"v":653,"g":"parents"},{"x":0.42,"v":670,"g":"parents"},
{"x":0.248,"v":618,"g":"parents"},{"x":0.265,"v":601,"g":"parents"},{"x":0.283,"v":608,"g":"sibs"},{"x":0.305,"v":595,"g":"parents"},{"x":0.331,"v":608,"g":"parents"},{"x":0.384,"v":601,"g":"controls"},{"x":0.375,"v":635,"g":"sibs"},{"x":0.41,"v":608,"g":"parents"},{"x":0.445,"v":601,"g":"parents"},{"x":0.507,"v":608,"g":"controls"},{"x":0.42,"v":550,"g":"parents"},{"x":0.472,"v":567,"g":"parents"},{"x":0.498,"v":516,"g":"controls"},{"x":0.516,"v":516,"g":"sibs"},{"x":0.218,"v":533,"g":"parents"},{"x":0.27,"v":550,"g":"controls"},{"x":0.288,"v":550,"g":"parents"},{"x":0.293,"v":516,"g":"sibs"},{"x":0.314,"v":506,"g":"parents"},{"x":0.34,"v":533,"g":"controls"},{"x":0.366,"v":499,"g":"controls"},{"x":0.389,"v":472,"g":"parents"},{"x":0.589,"v":506,"g":"controls"},{"x":0.603,"v":430,"g":"sibs"},{"x":0.525,"v":458,"g":"controls"},
{"x":0.191,"v":404,"g":"parents"},{"x":0.218,"v":397,"g":"controls"},{"x":0.244,"v":431,"g":"parents"},{"x":0.253,"v":380,"g":"sibs"},{"x":0.27,"v":414,"g":"parents"},{"x":0.288,"v":448,"g":"parents"},{"x":0.314,"v":363,"g":"controls"},{"x":0.349,"v":380,"g":"parents"},{"x":0.362,"v":346,"g":"controls"},{"x":0.393,"v":397,"g":"sibs"},{"x":0.41,"v":363,"g":"parents"},{"x":0.445,"v":414,"g":"sibs"},{"x":0.472,"v":346,"g":"controls"},{"x":0.495,"v":322,"g":"controls"},{"x":0.516,"v":295,"g":"controls"},{"x":0.539,"v":302,"g":"controls"},{"x":0.551,"v":268,"g":"controls"},{"x":0.56,"v":322,"g":"controls"},{"x":0.586,"v":279,"g":"parents"},{"x":0.609,"v":289,"g":"sibs"},{"x":0.647,"v":210,"g":"parents"},
{"x":0.2,"v":312,"g":"parents"},{"x":0.196,"v":234,"g":"controls"},{"x":0.218,"v":279,"g":"parents"},{"x":0.235,"v":329,"g":"parents"},{"x":0.253,"v":261,"g":"sibs"},{"x":0.279,"v":295,"g":"parents"},{"x":0.297,"v":254,"g":"controls"},{"x":0.314,"v":279,"g":"sibs"},{"x":0.331,"v":227,"g":"parents"},{"x":0.358,"v":210,"g":"controls"},{"x":0.379,"v":234,"g":"parents"},{"x":0.402,"v":210,"g":"parents"},{"x":0.42,"v":268,"g":"sibs"},{"x":0.437,"v":210,"g":"parents"},{"x":0.463,"v":244,"g":"controls"},{"x":0.495,"v":227,"g":"parents"},
{"x":0.174,"v":152,"g":"parents"},{"x":0.218,"v":176,"g":"parents"},{"x":0.239,"v":142,"g":"sibs"},{"x":0.26,"v":166,"g":"parents"},{"x":0.288,"v":132,"g":"parents"},{"x":0.305,"v":176,"g":"parents"},{"x":0.331,"v":152,"g":"controls"},{"x":0.358,"v":125,"g":"parents"},{"x":0.384,"v":152,"g":"parents"},{"x":0.405,"v":118,"g":"parents"},{"x":0.424,"v":142,"g":"controls"},{"x":0.445,"v":125,"g":"parents"},{"x":0.472,"v":118,"g":"parents"},{"x":0.495,"v":152,"g":"controls"},{"x":0.542,"v":125,"g":"parents"},{"x":0.6,"v":108,"g":"sibs"},{"x":0.63,"v":132,"g":"parents"},{"x":0.147,"v":118,"g":"parents"},{"x":0.191,"v":91,"g":"sibs"},{"x":0.226,"v":98,"g":"sibs"},
{"x":0.22,"v":460,"g":"parents"},{"x":0.23,"v":380,"g":"parents"},{"x":0.24,"v":300,"g":"parents"},{"x":0.25,"v":250,"g":"parents"},{"x":0.26,"v":520,"g":"parents"},{"x":0.27,"v":420,"g":"parents"},{"x":0.28,"v":200,"g":"parents"},{"x":0.29,"v":330,"g":"parents"},{"x":0.3,"v":480,"g":"parents"},{"x":0.31,"v":250,"g":"parents"},{"x":0.32,"v":150,"g":"parents"},{"x":0.33,"v":450,"g":"parents"},{"x":0.34,"v":300,"g":"parents"},{"x":0.35,"v":520,"g":"parents"},{"x":0.36,"v":180,"g":"parents"},{"x":0.37,"v":400,"g":"parents"},{"x":0.38,"v":320,"g":"parents"},{"x":0.39,"v":140,"g":"parents"},{"x":0.4,"v":480,"g":"parents"},{"x":0.41,"v":260,"g":"parents"},{"x":0.42,"v":200,"g":"parents"},{"x":0.43,"v":390,"g":"parents"},{"x":0.44,"v":130,"g":"parents"},{"x":0.45,"v":310,"g":"parents"},{"x":0.46,"v":170,"g":"parents"},{"x":0.48,"v":280,"g":"parents"},{"x":0.5,"v":120,"g":"parents"},{"x":0.52,"v":230,"g":"parents"},{"x":0.55,"v":115,"g":"parents"},{"x":0.58,"v":130,"g":"parents"},
{"x":0.62,"v":125,"g":"parents"},{"x":0.65,"v":130,"g":"parents"},{"x":0.7,"v":320,"g":"parents"},{"x":0.72,"v":355,"g":"parents"},{"x":0.22,"v":240,"g":"parents"},{"x":0.24,"v":560,"g":"parents"},{"x":0.26,"v":190,"g":"parents"},{"x":0.28,"v":480,"g":"parents"},{"x":0.3,"v":140,"g":"parents"},{"x":0.32,"v":390,"g":"parents"},{"x":0.34,"v":520,"g":"parents"},{"x":0.36,"v":260,"g":"parents"},{"x":0.38,"v":540,"g":"parents"},{"x":0.4,"v":170,"g":"parents"},{"x":0.42,"v":450,"g":"parents"},{"x":0.44,"v":240,"g":"parents"},{"x":0.47,"v":420,"g":"parents"},{"x":0.23,"v":140,"g":"parents"},{"x":0.25,"v":420,"g":"parents"},{"x":0.27,"v":340,"g":"parents"},{"x":0.29,"v":120,"g":"parents"},{"x":0.31,"v":430,"g":"parents"},{"x":0.33,"v":200,"g":"parents"},{"x":0.35,"v":350,"g":"parents"},{"x":0.37,"v":110,"g":"parents"},{"x":0.39,"v":300,"g":"parents"},{"x":0.41,"v":380,"g":"parents"},{"x":0.43,"v":150,"g":"parents"},{"x":0.45,"v":450,"g":"parents"},{"x":0.21,"v":520,"g":"parents"},
{"x":0.22,"v":350,"g":"parents"},{"x":0.24,"v":200,"g":"parents"},{"x":0.26,"v":410,"g":"parents"},{"x":0.28,"v":280,"g":"parents"},{"x":0.3,"v":370,"g":"parents"},{"x":0.32,"v":290,"g":"parents"},{"x":0.34,"v":160,"g":"parents"},{"x":0.36,"v":440,"g":"parents"},{"x":0.38,"v":220,"g":"parents"},{"x":0.4,"v":330,"g":"parents"},{"x":0.21,"v":180,"g":"parents"},{"x":0.2,"v":420,"g":"parents"},{"x":0.19,"v":290,"g":"parents"},{"x":0.18,"v":150,"g":"parents"},{"x":0.25,"v":480,"g":"parents"},{"x":0.27,"v":230,"g":"parents"},{"x":0.29,"v":500,"g":"parents"},{"x":0.31,"v":160,"g":"parents"},{"x":0.33,"v":370,"g":"parents"},{"x":0.35,"v":230,"g":"parents"},{"x":0.37,"v":490,"g":"parents"},{"x":0.39,"v":410,"g":"parents"},{"x":0.41,"v":110,"g":"parents"},{"x":0.5,"v":170,"g":"parents"},{"x":0.53,"v":140,"g":"parents"},{"x":0.56,"v":120,"g":"parents"},{"x":0.6,"v":115,"g":"parents"},{"x":0.47,"v":110,"g":"parents"},{"x":0.49,"v":300,"g":"parents"},
{"x":0.26,"v":300,"g":"controls"},{"x":0.28,"v":380,"g":"controls"},{"x":0.3,"v":230,"g":"controls"},{"x":0.33,"v":420,"g":"controls"},{"x":0.35,"v":160,"g":"controls"},{"x":0.38,"v":470,"g":"controls"},{"x":0.4,"v":290,"g":"controls"},{"x":0.42,"v":350,"g":"controls"},{"x":0.44,"v":190,"g":"controls"},{"x":0.46,"v":250,"g":"controls"},{"x":0.48,"v":330,"g":"controls"},{"x":0.5,"v":220,"g":"controls"},{"x":0.52,"v":280,"g":"controls"},{"x":0.54,"v":180,"g":"controls"},{"x":0.56,"v":300,"g":"controls"},{"x":0.58,"v":260,"g":"controls"},{"x":0.6,"v":240,"g":"controls"},{"x":0.62,"v":200,"g":"controls"},{"x":0.67,"v":440,"g":"controls"},{"x":0.68,"v":360,"g":"controls"},{"x":0.72,"v":230,"g":"controls"},{"x":0.96,"v":240,"g":"controls"},{"x":0.47,"v":380,"g":"controls"},{"x":0.53,"v":340,"g":"controls"},{"x":0.57,"v":230,"g":"controls"},{"x":0.24,"v":430,"g":"controls"},{"x":0.31,"v":520,"g":"controls"},{"x":0.36,"v":330,"g":"controls"},{"x":0.41,"v":230,"g":"controls"},{"x":0.45,"v":120,"g":"controls"},{"x":0.5,"v":140,"g":"controls"},{"x":0.55,"v":260,"g":"controls"},{"x":0.59,"v":320,"g":"controls"},{"x":0.64,"v":300,"g":"controls"},{"x":0.66,"v":190,"g":"controls"},{"x":0.29,"v":270,"g":"controls"},{"x":0.34,"v":280,"g":"controls"},{"x":0.39,"v":180,"g":"controls"},{"x":0.43,"v":260,"g":"controls"},{"x":0.51,"v":470,"g":"controls"},{"x":0.46,"v":330,"g":"controls"},{"x":0.37,"v":560,"g":"controls"},{"x":0.27,"v":140,"g":"controls"},{"x":0.58,"v":500,"g":"controls"},{"x":0.52,"v":170,"g":"controls"},
{"x":0.22,"v":330,"g":"sibs"},{"x":0.25,"v":360,"g":"sibs"},{"x":0.27,"v":470,"g":"sibs"},{"x":0.29,"v":300,"g":"sibs"},{"x":0.31,"v":410,"g":"sibs"},{"x":0.33,"v":240,"g":"sibs"},{"x":0.35,"v":300,"g":"sibs"},{"x":0.37,"v":190,"g":"sibs"},{"x":0.41,"v":180,"g":"sibs"},{"x":0.43,"v":450,"g":"sibs"},{"x":0.45,"v":250,"g":"sibs"},{"x":0.48,"v":190,"g":"sibs"},{"x":0.3,"v":100,"g":"sibs"},{"x":0.28,"v":410,"g":"sibs"},{"x":0.32,"v":520,"g":"sibs"},{"x":0.36,"v":130,"g":"sibs"},{"x":0.19,"v":120,"g":"sibs"},{"x":0.18,"v":100,"g":"sibs"},{"x":0.24,"v":260,"g":"sibs"},{"x":0.26,"v":140,"g":"sibs"},{"x":0.62,"v":290,"g":"sibs"},
{"x":0.193,"v":885,"g":"other"},{"x":0.344,"v":799,"g":"other"},{"x":0.326,"v":404,"g":"other"},{"x":0.256,"v":50,"g":"other"},{"x":0.24,"v":100,"g":"other"}],
"dBox":[
 {"g":"Intellectual Disability","n":16,"lo":0.04,"q1":0.108,"med":0.206,"q3":0.28,"hi":0.483},
 {"g":"Normal IQ","n":40,"lo":0.04,"q1":0.229,"med":0.344,"q3":0.488,"hi":0.736}],
"dPts":[
{"g":"Intellectual Disability","j":-0.3,"v":0.314},{"g":"Intellectual Disability","j":-0.13,"v":0.329},{"g":"Intellectual Disability","j":-0.11,"v":0.262},{"g":"Intellectual Disability","j":-0.08,"v":0.232},{"g":"Intellectual Disability","j":-0.02,"v":0.265},{"g":"Intellectual Disability","j":0.04,"v":0.269},{"g":"Intellectual Disability","j":0.09,"v":0.281},{"g":"Intellectual Disability","j":0.17,"v":0.251},{"g":"Intellectual Disability","j":0.21,"v":0.483},{"g":"Intellectual Disability","j":-0.15,"v":0.139},{"g":"Intellectual Disability","j":-0.08,"v":0.105},{"g":"Intellectual Disability","j":-0.04,"v":0.097},{"g":"Intellectual Disability","j":0.02,"v":0.109},{"g":"Intellectual Disability","j":0.08,"v":0.157},{"g":"Intellectual Disability","j":0.09,"v":0.097},{"g":"Intellectual Disability","j":0.15,"v":0.04},
{"g":"Normal IQ","j":0.06,"v":0.733},{"g":"Normal IQ","j":-0.05,"v":0.696},{"g":"Normal IQ","j":0.03,"v":0.643},{"g":"Normal IQ","j":-0.19,"v":0.583},{"g":"Normal IQ","j":0.05,"v":0.583},{"g":"Normal IQ","j":0.2,"v":0.613},{"g":"Normal IQ","j":-0.03,"v":0.513},{"g":"Normal IQ","j":0.01,"v":0.513},{"g":"Normal IQ","j":0.12,"v":0.513},{"g":"Normal IQ","j":0.26,"v":0.486},{"g":"Normal IQ","j":-0.05,"v":0.396},{"g":"Normal IQ","j":0.01,"v":0.396},{"g":"Normal IQ","j":0.09,"v":0.434},{"g":"Normal IQ","j":0.12,"v":0.434},{"g":"Normal IQ","j":0.17,"v":0.367},{"g":"Normal IQ","j":0.18,"v":0.381},{"g":"Normal IQ","j":0.2,"v":0.389},{"g":"Normal IQ","j":-0.12,"v":0.367},{"g":"Normal IQ","j":-0.23,"v":0.337},{"g":"Normal IQ","j":-0.13,"v":0.337},
{"g":"Normal IQ","j":-0.06,"v":0.329},{"g":"Normal IQ","j":-0.05,"v":0.307},{"g":"Normal IQ","j":-0.03,"v":0.329},{"g":"Normal IQ","j":0.36,"v":0.344},{"g":"Normal IQ","j":0.41,"v":0.344},{"g":"Normal IQ","j":-0.35,"v":0.18},{"g":"Normal IQ","j":-0.23,"v":0.239},{"g":"Normal IQ","j":-0.18,"v":0.232},{"g":"Normal IQ","j":-0.08,"v":0.209},{"g":"Normal IQ","j":-0.05,"v":0.217},{"g":"Normal IQ","j":-0.02,"v":0.251},{"g":"Normal IQ","j":0.11,"v":0.235},{"g":"Normal IQ","j":0.13,"v":0.272},{"g":"Normal IQ","j":0.16,"v":0.277},{"g":"Normal IQ","j":-0.23,"v":0.142},{"g":"Normal IQ","j":0.0,"v":0.124},{"g":"Normal IQ","j":0.08,"v":0.097},{"g":"Normal IQ","j":0.21,"v":0.079},{"g":"Normal IQ","j":0.04,"v":0.04},{"g":"Normal IQ","j":0.41,"v":0.1}],
"eBox":[
 {"g":"Intellectual Disability","lo":0.03,"q1":0.068,"med":0.12,"q3":0.151,"hi":0.24},
 {"g":"Normal IQ","lo":0.032,"q1":0.068,"med":0.092,"q3":0.128,"hi":0.149}],
"ePts":[
{"g":"Intellectual Disability","j":-0.32,"v":0.24},{"g":"Intellectual Disability","j":0.11,"v":0.402},{"g":"Intellectual Disability","j":-0.15,"v":0.137},{"g":"Intellectual Disability","j":-0.09,"v":0.141},{"g":"Intellectual Disability","j":-0.04,"v":0.137},{"g":"Intellectual Disability","j":-0.05,"v":0.152},{"g":"Intellectual Disability","j":0.11,"v":0.154},{"g":"Intellectual Disability","j":0.08,"v":0.131},{"g":"Intellectual Disability","j":0.04,"v":0.107},{"g":"Intellectual Disability","j":0.16,"v":0.104},{"g":"Intellectual Disability","j":0.22,"v":0.1},{"g":"Intellectual Disability","j":0.04,"v":0.078},{"g":"Intellectual Disability","j":-0.17,"v":0.067},{"g":"Intellectual Disability","j":-0.13,"v":0.064},{"g":"Intellectual Disability","j":0.19,"v":0.042},{"g":"Intellectual Disability","j":0.03,"v":0.03},
{"g":"Normal IQ","j":-0.13,"v":0.33},{"g":"Normal IQ","j":-0.03,"v":0.3},{"g":"Normal IQ","j":-0.23,"v":0.128},{"g":"Normal IQ","j":-0.18,"v":0.133},{"g":"Normal IQ","j":-0.1,"v":0.128},{"g":"Normal IQ","j":-0.06,"v":0.126},{"g":"Normal IQ","j":0.07,"v":0.148},{"g":"Normal IQ","j":0.19,"v":0.148},{"g":"Normal IQ","j":0.11,"v":0.135},{"g":"Normal IQ","j":0.14,"v":0.128},{"g":"Normal IQ","j":-0.05,"v":0.116},{"g":"Normal IQ","j":0.02,"v":0.108},{"g":"Normal IQ","j":0.09,"v":0.106},{"g":"Normal IQ","j":0.15,"v":0.106},{"g":"Normal IQ","j":0.28,"v":0.116},{"g":"Normal IQ","j":0.46,"v":0.095},{"g":"Normal IQ","j":0.22,"v":0.1},{"g":"Normal IQ","j":-0.46,"v":0.084},{"g":"Normal IQ","j":-0.17,"v":0.095},{"g":"Normal IQ","j":-0.08,"v":0.092},
{"g":"Normal IQ","j":-0.01,"v":0.095},{"g":"Normal IQ","j":0.02,"v":0.099},{"g":"Normal IQ","j":0.07,"v":0.087},{"g":"Normal IQ","j":0.11,"v":0.091},{"g":"Normal IQ","j":0.16,"v":0.084},{"g":"Normal IQ","j":0.2,"v":0.092},{"g":"Normal IQ","j":0.23,"v":0.087},{"g":"Normal IQ","j":-0.14,"v":0.084},{"g":"Normal IQ","j":-0.04,"v":0.081},{"g":"Normal IQ","j":0.02,"v":0.072},{"g":"Normal IQ","j":0.15,"v":0.074},{"g":"Normal IQ","j":-0.23,"v":0.067},{"g":"Normal IQ","j":-0.11,"v":0.063},{"g":"Normal IQ","j":-0.05,"v":0.061},{"g":"Normal IQ","j":-0.01,"v":0.053},{"g":"Normal IQ","j":0.15,"v":0.054},{"g":"Normal IQ","j":0.24,"v":0.055},{"g":"Normal IQ","j":0.39,"v":0.057},{"g":"Normal IQ","j":0.46,"v":0.057},{"g":"Normal IQ","j":0.05,"v":0.039}],
"fBox":[
 {"g":"Intellectual Disability","lo":0,"q1":490,"med":800,"q3":985,"hi":1606},
 {"g":"Normal IQ","lo":0,"q1":306,"med":590,"q3":853,"hi":1260}],
"fPts":[
{"g":"Intellectual Disability","j":0.01,"v":2057},{"g":"Intellectual Disability","j":0.09,"v":1619},{"g":"Intellectual Disability","j":0.06,"v":1588},{"g":"Intellectual Disability","j":-0.29,"v":1509},{"g":"Intellectual Disability","j":-0.24,"v":1408},{"g":"Intellectual Disability","j":0.14,"v":1282},{"g":"Intellectual Disability","j":0.09,"v":1150},{"g":"Intellectual Disability","j":-0.16,"v":1181},{"g":"Intellectual Disability","j":-0.15,"v":1124},{"g":"Intellectual Disability","j":-0.07,"v":1019},{"g":"Intellectual Disability","j":-0.02,"v":1028},{"g":"Intellectual Disability","j":-0.14,"v":962},{"g":"Intellectual Disability","j":-0.18,"v":919},{"g":"Intellectual Disability","j":0.01,"v":962},{"g":"Intellectual Disability","j":0.04,"v":949},{"g":"Intellectual Disability","j":0.08,"v":931},
{"g":"Intellectual Disability","j":0.13,"v":927},{"g":"Intellectual Disability","j":0.17,"v":905},{"g":"Intellectual Disability","j":-0.11,"v":897},{"g":"Intellectual Disability","j":-0.06,"v":831},{"g":"Intellectual Disability","j":-0.02,"v":809},{"g":"Intellectual Disability","j":0.04,"v":809},{"g":"Intellectual Disability","j":-0.16,"v":800},{"g":"Intellectual Disability","j":-0.06,"v":765},{"g":"Intellectual Disability","j":-0.01,"v":765},{"g":"Intellectual Disability","j":0.04,"v":744},{"g":"Intellectual Disability","j":0.09,"v":678},{"g":"Intellectual Disability","j":-0.3,"v":844},{"g":"Intellectual Disability","j":0.16,"v":678},{"g":"Intellectual Disability","j":-0.02,"v":634},{"g":"Intellectual Disability","j":-0.12,"v":590},{"g":"Intellectual Disability","j":-0.19,"v":678},
{"g":"Intellectual Disability","j":-0.09,"v":678},{"g":"Intellectual Disability","j":-0.29,"v":582},{"g":"Intellectual Disability","j":-0.24,"v":525},{"g":"Intellectual Disability","j":-0.22,"v":538},{"g":"Intellectual Disability","j":-0.2,"v":534},{"g":"Intellectual Disability","j":-0.34,"v":481},{"g":"Intellectual Disability","j":-0.29,"v":481},{"g":"Intellectual Disability","j":-0.12,"v":525},{"g":"Intellectual Disability","j":-0.09,"v":556},{"g":"Intellectual Disability","j":-0.04,"v":569},{"g":"Intellectual Disability","j":0.08,"v":547},{"g":"Intellectual Disability","j":0.11,"v":512},{"g":"Intellectual Disability","j":0.16,"v":569},{"g":"Intellectual Disability","j":0.24,"v":599},{"g":"Intellectual Disability","j":0.31,"v":407},{"g":"Intellectual Disability","j":-0.27,"v":293},
{"g":"Intellectual Disability","j":-0.11,"v":451},{"g":"Intellectual Disability","j":-0.09,"v":394},{"g":"Intellectual Disability","j":-0.1,"v":284},{"g":"Intellectual Disability","j":-0.09,"v":153},{"g":"Intellectual Disability","j":0.02,"v":162},{"g":"Intellectual Disability","j":0.04,"v":162},{"g":"Intellectual Disability","j":0.09,"v":162},{"g":"Intellectual Disability","j":-0.16,"v":5},{"g":"Intellectual Disability","j":0.08,"v":5},{"g":"Intellectual Disability","j":-0.04,"v":350},{"g":"Intellectual Disability","j":-0.01,"v":284},{"g":"Intellectual Disability","j":0.0,"v":481},{"g":"Intellectual Disability","j":0.03,"v":634},{"g":"Intellectual Disability","j":-0.06,"v":678},{"g":"Intellectual Disability","j":-0.19,"v":262},{"g":"Intellectual Disability","j":0.19,"v":809},
{"g":"Normal IQ","j":-0.01,"v":1269},{"g":"Normal IQ","j":-0.16,"v":1256},{"g":"Normal IQ","j":-0.15,"v":1190},{"g":"Normal IQ","j":-0.28,"v":1063},{"g":"Normal IQ","j":0.08,"v":1138},{"g":"Normal IQ","j":0.13,"v":1107},{"g":"Normal IQ","j":0.18,"v":1146},{"g":"Normal IQ","j":0.04,"v":1015},{"g":"Normal IQ","j":0.14,"v":1015},{"g":"Normal IQ","j":0.2,"v":919},{"g":"Normal IQ","j":-0.41,"v":905},{"g":"Normal IQ","j":-0.19,"v":905},{"g":"Normal IQ","j":-0.09,"v":905},{"g":"Normal IQ","j":-0.05,"v":919},{"g":"Normal IQ","j":-0.01,"v":919},{"g":"Normal IQ","j":0.1,"v":931},
{"g":"Normal IQ","j":0.03,"v":887},{"g":"Normal IQ","j":-0.12,"v":861},{"g":"Normal IQ","j":-0.18,"v":809},{"g":"Normal IQ","j":-0.06,"v":787},{"g":"Normal IQ","j":-0.04,"v":744},{"g":"Normal IQ","j":0.0,"v":765},{"g":"Normal IQ","j":0.05,"v":757},{"g":"Normal IQ","j":0.1,"v":765},{"g":"Normal IQ","j":0.13,"v":722},{"g":"Normal IQ","j":0.16,"v":669},{"g":"Normal IQ","j":-0.3,"v":708},{"g":"Normal IQ","j":-0.34,"v":656},{"g":"Normal IQ","j":-0.11,"v":700},{"g":"Normal IQ","j":-0.05,"v":687},{"g":"Normal IQ","j":-0.01,"v":656},{"g":"Normal IQ","j":0.04,"v":687},
{"g":"Normal IQ","j":0.07,"v":656},{"g":"Normal IQ","j":-0.14,"v":590},{"g":"Normal IQ","j":-0.11,"v":525},{"g":"Normal IQ","j":-0.05,"v":560},{"g":"Normal IQ","j":-0.01,"v":503},{"g":"Normal IQ","j":0.05,"v":494},{"g":"Normal IQ","j":0.09,"v":494},{"g":"Normal IQ","j":0.14,"v":494},{"g":"Normal IQ","j":0.24,"v":481},{"g":"Normal IQ","j":-0.18,"v":481},{"g":"Normal IQ","j":-0.1,"v":424},{"g":"Normal IQ","j":-0.03,"v":438},{"g":"Normal IQ","j":0.05,"v":416},{"g":"Normal IQ","j":-0.18,"v":416},{"g":"Normal IQ","j":-0.15,"v":394},{"g":"Normal IQ","j":-0.07,"v":381},
{"g":"Normal IQ","j":-0.01,"v":403},{"g":"Normal IQ","j":-0.11,"v":337},{"g":"Normal IQ","j":-0.04,"v":337},{"g":"Normal IQ","j":0.01,"v":306},{"g":"Normal IQ","j":0.08,"v":337},{"g":"Normal IQ","j":0.14,"v":328},{"g":"Normal IQ","j":0.19,"v":372},{"g":"Normal IQ","j":0.32,"v":363},{"g":"Normal IQ","j":-0.15,"v":271},{"g":"Normal IQ","j":-0.12,"v":249},{"g":"Normal IQ","j":-0.06,"v":262},{"g":"Normal IQ","j":0.0,"v":275},{"g":"Normal IQ","j":0.03,"v":241},{"g":"Normal IQ","j":0.05,"v":241},{"g":"Normal IQ","j":0.12,"v":284},{"g":"Normal IQ","j":-0.05,"v":153},
{"g":"Normal IQ","j":0.01,"v":206},{"g":"Normal IQ","j":0.19,"v":153},{"g":"Normal IQ","j":0.32,"v":162},{"g":"Normal IQ","j":0.37,"v":162},{"g":"Normal IQ","j":-0.12,"v":5},{"g":"Normal IQ","j":-0.06,"v":5},{"g":"Normal IQ","j":0.15,"v":219},{"g":"Normal IQ","j":-0.1,"v":319}],
"gBox":[
 {"g":"WT FVB/N","lo":3150,"q1":3150,"med":3230,"q3":3320,"hi":3320},
 {"g":"sult1a1-","lo":4477,"q1":4477,"med":4704,"q3":4822,"hi":4822},
 {"g":"tg (hSULT1a1/1a2)","lo":2140,"q1":2258,"med":2416,"q3":2811,"hi":2811},
 {"g":"WT FVB/N + EE2","lo":4043,"q1":4043,"med":4162,"q3":4240,"hi":4240}],
"gPts":[
 {"g":"WT FVB/N","j":-0.12,"v":3310},{"g":"WT FVB/N","j":0.03,"v":3270},{"g":"WT FVB/N","j":0.1,"v":3250},{"g":"WT FVB/N","j":-0.05,"v":3220},{"g":"WT FVB/N","j":-0.08,"v":3150},
 {"g":"sult1a1-","j":0.1,"v":4850},{"g":"sult1a1-","j":-0.05,"v":4800},{"g":"sult1a1-","j":0.02,"v":4700},{"g":"sult1a1-","j":-0.08,"v":4470},{"g":"sult1a1-","j":0.08,"v":4480},
 {"g":"tg (hSULT1a1/1a2)","j":-0.1,"v":2840},{"g":"tg (hSULT1a1/1a2)","j":0.1,"v":2840},{"g":"tg (hSULT1a1/1a2)","j":-0.1,"v":2430},{"g":"tg (hSULT1a1/1a2)","j":0.08,"v":2430},{"g":"tg (hSULT1a1/1a2)","j":-0.02,"v":2150},
 {"g":"WT FVB/N + EE2","j":0.1,"v":4280},{"g":"WT FVB/N + EE2","j":-0.05,"v":4230},{"g":"WT FVB/N + EE2","j":0.05,"v":4200},{"g":"WT FVB/N + EE2","j":-0.08,"v":4060},{"g":"WT FVB/N + EE2","j":0.08,"v":4060}],
"gSig":[
 {"from":"WT FVB/N","to":"sult1a1-","y":5195,"mid":1.556,"p":"p=0.01"},
 {"from":"WT FVB/N","to":"tg (hSULT1a1/1a2)","y":5541,"mid":2.15,"p":"p=0.01"},
 {"from":"WT FVB/N","to":"WT FVB/N + EE2","y":5867,"mid":2.76,"p":"p=0.01"}]
}
}
